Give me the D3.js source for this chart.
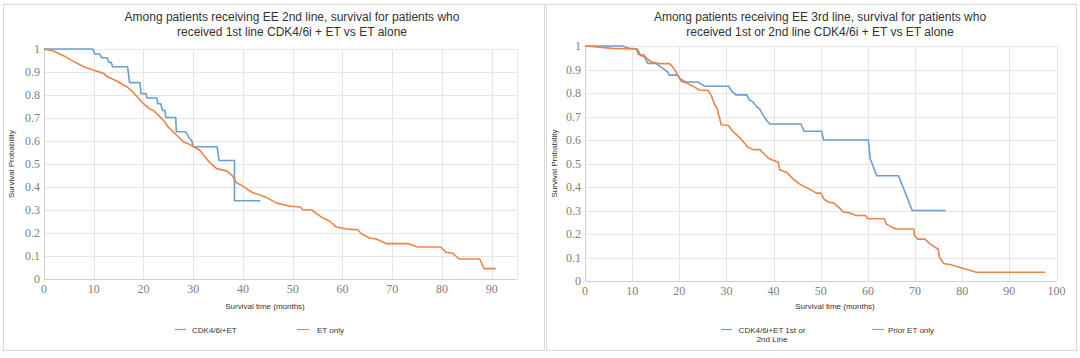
<!DOCTYPE html>
<html>
<head>
<meta charset="utf-8">
<script src="https://cdn.jsdelivr.net/npm/d3@7"></script>
<style>
  body { margin: 0; background: #fff; }
  svg { display: block; }
  .title { font-family: "Liberation Sans", Arial, sans-serif; font-size: 12px; fill: #333; }
  .axis-title, .legend-label { font-family: "Liberation Sans", Arial, sans-serif; font-size: 8px; fill: #333; }
</style>
</head>
<body>
<div id="chart"></div>
<script>
// ---- data: panel 1 (EE 2nd line)
const leftCdkTime = [0, 9.8, 10.2, 11.2, 11.6, 12.7, 13, 13.5, 13.8, 16.8, 17.2, 19.3, 19.5, 20.5, 20.7, 22.7, 22.9, 23.5, 23.8, 24.3, 24.5, 26.5, 26.6, 28.5, 29.2, 29.7, 30, 34.8, 35.2, 38.3, 38.3, 43.5];
const leftCdkSurv = [1, 1, 0.978, 0.978, 0.962, 0.962, 0.942, 0.942, 0.923, 0.923, 0.854, 0.854, 0.806, 0.806, 0.787, 0.787, 0.762, 0.762, 0.733, 0.733, 0.702, 0.702, 0.64, 0.64, 0.612, 0.602, 0.575, 0.575, 0.515, 0.515, 0.34, 0.34];
const leftEtTime = [0, 2, 4, 6, 8, 10, 12, 12.7, 14.7, 16.7, 18, 20, 21.3, 22, 24, 25, 26.7, 28, 29.3, 31.3, 33.3, 34.7, 36.7, 37.9, 38.7, 39.5, 41.8, 44.5, 46.8, 49.5, 51.5, 52.1, 53.8, 55.1, 56.1, 57.5, 58.8, 60.8, 63.1, 63.8, 65.5, 66.8, 68.8, 73.1, 75.1, 79.8, 80.8, 82.1, 83.5, 87.6, 88.5, 90.8];
const leftEtSurv = [1, 0.99, 0.97, 0.945, 0.923, 0.908, 0.894, 0.88, 0.86, 0.835, 0.81, 0.762, 0.739, 0.733, 0.69, 0.66, 0.625, 0.597, 0.585, 0.56, 0.507, 0.48, 0.47, 0.448, 0.418, 0.41, 0.377, 0.357, 0.33, 0.316, 0.313, 0.30, 0.30, 0.28, 0.265, 0.25, 0.226, 0.217, 0.214, 0.197, 0.178, 0.174, 0.154, 0.154, 0.139, 0.139, 0.116, 0.113, 0.087, 0.087, 0.045, 0.045];

// ---- data: panel 2 (EE 3rd line)
const rightCdkTime = [0, 7.9, 9.4, 11.1, 11.8, 12.6, 13.3, 15, 16.1, 17.5, 17.9, 19.6, 20.3, 21.4, 23.9, 25.3, 30.5, 31, 32, 34.3, 34.8, 35.7, 36.4, 37.1, 37.8, 38.5, 39.2, 45.8, 46.5, 50.2, 50.6, 60.1, 60.5, 61.9, 66.5, 69.4, 76.5];
const rightCdkSurv = [1, 1, 0.99, 0.987, 0.96, 0.954, 0.926, 0.926, 0.911, 0.89, 0.876, 0.876, 0.859, 0.847, 0.847, 0.829, 0.829, 0.81, 0.792, 0.792, 0.772, 0.761, 0.742, 0.73, 0.705, 0.684, 0.668, 0.668, 0.637, 0.637, 0.60, 0.60, 0.519, 0.448, 0.448, 0.30, 0.30];
const rightEtTime = [0, 5.8, 10.9, 11.3, 12.6, 12.9, 14, 15.7, 17.9, 18.6, 19.3, 20.4, 21.8, 23.2, 24.3, 26.1, 26.8, 27.5, 28, 28.9, 30.4, 31.4, 32.8, 34.6, 35.7, 37.1, 38.2, 39.2, 41, 41.3, 42.8, 44.2, 45.6, 47.7, 49.1, 50, 50.7, 51.6, 52.7, 54, 54.7, 56.1, 57.5, 59.5, 60, 63.5, 63.9, 65, 66, 69.7, 69.9, 70.6, 72.1, 73.1, 74.9, 75.2, 76.1, 77.4, 83, 97.6];
const rightEtSurv = [1, 0.99, 0.987, 0.964, 0.961, 0.95, 0.933, 0.925, 0.925, 0.911, 0.89, 0.85, 0.84, 0.825, 0.813, 0.811, 0.789, 0.75, 0.735, 0.665, 0.662, 0.636, 0.61, 0.569, 0.559, 0.559, 0.536, 0.519, 0.505, 0.473, 0.462, 0.433, 0.412, 0.39, 0.374, 0.374, 0.348, 0.336, 0.332, 0.31, 0.295, 0.29, 0.279, 0.279, 0.265, 0.265, 0.242, 0.23, 0.221, 0.221, 0.192, 0.178, 0.178, 0.159, 0.135, 0.10, 0.074, 0.07, 0.037, 0.037];

const yTicks = [0, 0.1, 0.2, 0.3, 0.4, 0.5, 0.6, 0.7, 0.8, 0.9, 1];
const leftXTicks = [0, 10, 20, 30, 40, 50, 60, 70, 80, 90];
const rightXTicks = [0, 10, 20, 30, 40, 50, 60, 70, 80, 90, 100];

const leftTitle = ["Among patients receiving EE 2nd line, survival for patients who", "received 1st line CDK4/6i + ET vs ET alone"];
const rightTitle = ["Among patients receiving EE 3rd line, survival for patients who", "received 1st or 2nd line CDK4/6i + ET vs ET alone"];
const leftLegend = [["CDK4/6i+ET"], ["ET only"]];
const rightLegend = [["CDK4/6i+ET 1st or", "2nd Line"], ["Prior ET only"]];

const blue = "#6a9fd2";
const orange = "#ee8447";
const serif = "'Liberation Serif', 'Tinos', 'Times New Roman', 'DejaVu Serif', serif";

const width = 1080;
const height = 358;

const svg = d3.select("#chart")
  .append("svg")
  .attr("width", width)
  .attr("height", height);

const zip = (ts, ss) => ts.map((t, i) => [t, ss[i]]);

function drawPanel(cfg) {
  const g = svg.append("g");

  g.append("rect")
    .attr("x", cfg.box[0] + 0.5)
    .attr("y", cfg.box[1] + 0.5)
    .attr("width", cfg.box[2])
    .attr("height", cfg.box[3])
    .attr("fill", "#fff")
    .attr("stroke", "#d9d9d9");

  const x = d3.scaleLinear().domain([0, cfg.xMax]).range([cfg.left, cfg.right]);
  const y = d3.scaleLinear().domain([0, 1]).range([cfg.bottom, cfg.top]);

  // gridlines
  g.append("g").selectAll("line")
    .data(yTicks.slice(1))
    .enter()
    .append("line")
    .attr("x1", cfg.left).attr("x2", cfg.right)
    .attr("y1", d => Math.round(y(d)) + 0.5).attr("y2", d => Math.round(y(d)) + 0.5)
    .attr("stroke", "#e6e6e6");

  g.append("g").selectAll("line")
    .data(cfg.xTicks.slice(1).concat(cfg.xMax))
    .enter()
    .append("line")
    .attr("x1", d => Math.round(x(d)) + 0.5).attr("x2", d => Math.round(x(d)) + 0.5)
    .attr("y1", cfg.top).attr("y2", cfg.bottom)
    .attr("stroke", "#e6e6e6");

  // axis lines
  g.append("line")
    .attr("x1", Math.round(x(0)) + 0.5).attr("x2", Math.round(x(0)) + 0.5)
    .attr("y1", cfg.top).attr("y2", cfg.bottom)
    .attr("stroke", "#cfcfcf");
  g.append("line")
    .attr("x1", cfg.left).attr("x2", cfg.right)
    .attr("y1", Math.round(y(0)) + 0.5).attr("y2", Math.round(y(0)) + 0.5)
    .attr("stroke", "#cfcfcf");

  // tick labels
  g.append("g").selectAll("text")
    .data(yTicks)
    .enter()
    .append("text")
    .attr("font-family", serif)
    .attr("font-size", 12)
    .attr("fill", "#808080")
    .attr("x", cfg.left - 4)
    .attr("y", d => y(d) + 4)
    .attr("text-anchor", "end")
    .text(d => d);

  g.append("g").selectAll("text")
    .data(cfg.xTicks)
    .enter()
    .append("text")
    .attr("font-family", serif)
    .attr("font-size", 12)
    .attr("fill", "#808080")
    .attr("x", d => x(d))
    .attr("y", cfg.bottom + 14)
    .attr("text-anchor", "middle")
    .text(d => d);

  // titles
  cfg.title.forEach((t, i) => {
    g.append("text")
      .attr("class", "title")
      .attr("x", cfg.titleX)
      .attr("y", 21 + i * 15)
      .attr("text-anchor", "middle")
      .text(t);
  });

  g.append("text")
    .attr("class", "axis-title")
    .attr("x", cfg.xTitleX)
    .attr("y", 309)
    .attr("text-anchor", "middle")
    .text("Survival time (months)");

  g.append("text")
    .attr("class", "axis-title")
    .attr("transform", `translate(${cfg.yTitleX}, ${(cfg.top + cfg.bottom) / 2}) rotate(-90)`)
    .attr("text-anchor", "middle")
    .text("Survival Probability");

  // curves
  const line = d3.line().x(d => x(d[0])).y(d => y(d[1]));
  cfg.series.forEach(s => {
    g.append("path")
      .datum(s.points)
      .attr("d", line)
      .attr("fill", "none")
      .attr("stroke", s.color)
      .attr("stroke-width", 1.6)
      .attr("stroke-linejoin", "round");
  });

  // legend
  cfg.series.forEach((s, i) => {
    const lg = cfg.legend[i];
    g.append("line")
      .attr("x1", lg.x).attr("x2", lg.x + lg.w)
      .attr("y1", 329.5).attr("y2", 329.5)
      .attr("stroke", s.color)
      .attr("stroke-width", 1.2);
    s.label.forEach((l, j) => {
      g.append("text")
        .attr("class", "legend-label")
        .attr("x", lg.tx)
        .attr("y", 332.5 + j * 9)
        .attr("text-anchor", lg.anchor)
        .text(l);
    });
  });
}

drawPanel({
  box: [3, 4, 541, 346],
  left: 44, right: 516.5, top: 49, bottom: 279,
  xMax: 95, xTicks: leftXTicks,
  title: leftTitle, titleX: 292,
  xTitleX: 265, yTitleX: 14,
  series: [
    {points: zip(leftCdkTime, leftCdkSurv), color: blue, label: leftLegend[0]},
    {points: zip(leftEtTime, leftEtSurv), color: orange, label: leftLegend[1]}
  ],
  legend: [
    {x: 175, w: 11, tx: 192, anchor: "start"},
    {x: 297, w: 12, tx: 317, anchor: "start"}
  ]
});

drawPanel({
  box: [546, 4, 530, 346],
  left: 585, right: 1056.5, top: 46, bottom: 281,
  xMax: 100, xTicks: rightXTicks,
  title: rightTitle, titleX: 820,
  xTitleX: 835, yTitleX: 557,
  series: [
    {points: zip(rightCdkTime, rightCdkSurv), color: blue, label: rightLegend[0]},
    {points: zip(rightEtTime, rightEtSurv), color: orange, label: rightLegend[1]}
  ],
  legend: [
    {x: 721, w: 11, tx: 772, anchor: "middle"},
    {x: 872, w: 12, tx: 888, anchor: "start"}
  ]
});
</script>
</body>
</html>
